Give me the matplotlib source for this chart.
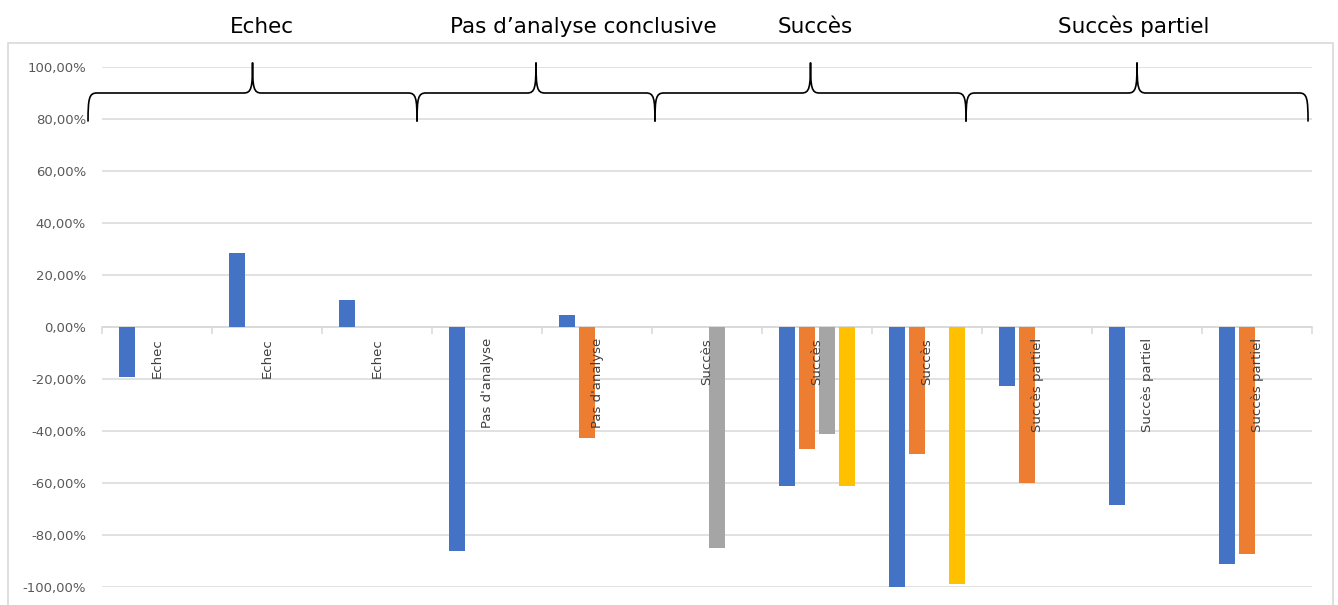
import numpy as np
import matplotlib
matplotlib.use("Agg")
import matplotlib.pyplot as plt
from matplotlib.path import Path
from matplotlib.patches import PathPatch, Rectangle
from matplotlib.ticker import FuncFormatter, MultipleLocator
import matplotlib.transforms as mtransforms

nan = np.nan
categories = ["Echec", "Echec", "Echec", "Pas d'analyse", "Pas d'analyse",
              "Succès", "Succès", "Succès", "Succès partiel", "Succès partiel", "Succès partiel"]
series_blue = [-19.2, 28.5, 10.5, -86.0, 4.5, nan, -61.0, -100.0, -22.6, -68.5, -91.0]
series_orange = [nan, nan, nan, nan, -42.7, nan, -46.8, -49.0, -60.0, nan, -87.3]
series_gray = [nan, nan, nan, nan, nan, -85.0, -41.0, nan, nan, nan, nan]
series_yellow = [nan, nan, nan, nan, nan, nan, -61.0, -99.0, nan, nan, nan]
colors = ["#4472C4", "#ED7D31", "#A5A5A5", "#FFC000"]

group_titles = ["Echec", "Pas d’analyse conclusive", "Succès", "Succès partiel"]
group_title_x = [0.955, 3.873, 5.982, 8.882]
brace_spans = [(-0.627, 2.364), (2.364, 4.527), (4.527, 7.355), (7.355, 10.464)]

W, H = 1338, 605
fig = plt.figure(figsize=(W / 100, H / 100), dpi=100)
ax = fig.add_axes([102 / W, 1 - 587 / H, 1210 / W, 520 / H])

# chart border
fig.patches.append(Rectangle((8 / W, -0.02), (1333 - 8) / W, (605 - 43) / H + 0.02,
                             transform=fig.transFigure, fill=False,
                             edgecolor="#D9D9D9", lw=1.2, zorder=0))

x = np.arange(len(categories))
step = 20 / 110
width = 16 / 110
for i, (vals, c) in enumerate(zip([series_blue, series_orange, series_gray, series_yellow], colors)):
    ax.bar(x + (i - 1.5) * step, vals, width=width, color=c, zorder=3)

ax.set_xlim(-0.5, len(categories) - 0.5)
ax.set_ylim(-100, 100)
ax.yaxis.set_major_locator(MultipleLocator(20))
ax.yaxis.set_major_formatter(FuncFormatter(lambda v, p: f"{v:.2f}%".replace(".", ",")))
ax.grid(axis="y", color="#D9D9D9", lw=1.1, zorder=0)
ax.set_axisbelow(True)
for s in ["top", "right", "left"]:
    ax.spines[s].set_visible(False)
ax.spines["bottom"].set_position(("data", 0))
ax.spines["bottom"].set_color("#D9D9D9")
ax.spines["bottom"].set_linewidth(1.1)
ax.set_xticks(np.arange(-0.5, len(categories), 1.0))
ax.set_xticklabels([])
ax.tick_params(axis="x", length=5, color="#D9D9D9", width=1.1, direction="out")
ax.tick_params(axis="y", length=0, pad=11.5, labelsize=9.5, labelcolor="#595959")
for lab in ax.get_yticklabels():
    lab.set_fontfamily("DejaVu Sans")

# category labels
for xi, lab in zip(x, categories):
    ax.text(xi, -4.2, lab, rotation=90, ha="center", va="top", fontsize=9.5,
            color="#404040", family="DejaVu Sans", zorder=5)

# braces
def brace(x0, x1, y_end=79, y_mid=90, y_tip=101.7, d=0.08):
    xc = (x0 + x1) / 2
    verts = [(x0, y_end), (x0, y_mid - 2), (x0 + 0.01, y_mid), (x0 + d, y_mid),
             (xc - d, y_mid),
             (xc - 0.01, y_mid), (xc, y_mid + 2), (xc, y_tip),
             (xc, y_mid + 2), (xc + 0.01, y_mid), (xc + d, y_mid),
             (x1 - d, y_mid),
             (x1 - 0.01, y_mid), (x1, y_mid - 2), (x1, y_end)]
    codes = [Path.MOVETO, Path.CURVE4, Path.CURVE4, Path.CURVE4,
             Path.LINETO,
             Path.CURVE4, Path.CURVE4, Path.CURVE4,
             Path.CURVE4, Path.CURVE4, Path.CURVE4,
             Path.LINETO,
             Path.CURVE4, Path.CURVE4, Path.CURVE4]
    ax.add_patch(PathPatch(Path(verts, codes), fill=False, edgecolor="black",
                           lw=1.2, clip_on=False, zorder=6))

for x0, x1 in brace_spans:
    brace(x0, x1)

trans = mtransforms.blended_transform_factory(ax.transData, fig.transFigure)
for t, tx in zip(group_titles, group_title_x):
    ax.text(tx, 1 - 33 / H, t, transform=trans, ha="center", va="baseline",
            fontsize=15.5, color="black", family="DejaVu Sans")

fig.savefig("out.png", dpi=100)
